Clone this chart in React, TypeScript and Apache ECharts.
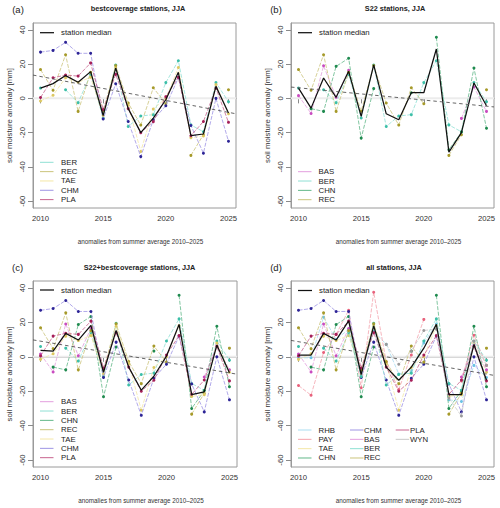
import React, { useEffect, useRef } from "react";
import * as echarts from "echarts";

// Summer (JJA) soil moisture anomalies per station, mm, 2010–2025
const years = [2010, 2011, 2012, 2013, 2014, 2015, 2016, 2017, 2018, 2019, 2020, 2021, 2022, 2023, 2024, 2025];

const BAS = [1.6, -8.8, 19, 0.6, 16.4, null, null, null, null, null, null, null, null, -11.7, 6.6, -7.6];
const BER = [6, null, 5, -2.5, 14, -11.5, 19.5, -16.4, -10.3, -9.5, 9.2, 22, -15.5, -19.5, 9.2, -2];
const CHN = [null, -6, -7.6, 18.7, 23.4, -23.2, 5.7, null, null, 3.3, null, 35.7, -30, -19.7, 17.7, -17.4];
const REC = [16.8, 4.7, 25.5, -7.6, 15.2, -7.5, 19.1, -2.7, -15.6, 6.2, -3.1, null, -33.3, -21.2, null, 5];
const TAE = [-1.5, 1.8, 12, 9.4, 12.3, -10, 17.7, -4, -31, -6.2, 0, 18, -23, -22, 8, -9];
const CHM = [27, 28, 32.7, 26.3, 26.3, -12, 8.5, -13.5, -34, -12.5, -4.3, 12, -15.8, -32, 0, -25];
const PLA = [0.5, 12, 13.6, 13, 20.7, -6.5, 14, -6, -20, -13.6, 1, 12.3, -21.8, -13.5, 6, -14];
const RHB = [-0.6, -0.6, 23, 10, 16, -11, 15, 7.2, -10, -8, 8, 19, -25, -26, -5, -12];
const PAY = [-16.7, -22.3, 2.5, 13, 27, -18, 37.5, -3, -19, 1, 21.7, null, null, -14, 12.5, -5];
const WYN = [null, null, null, null, null, null, null, 7.2, -4.3, 3.3, 15.3, 16, -24, -34.4, 9, -5];

// Station medians of each station group
const medianA = [6, 8.6, 13.3, 9.4, 15.6, -10, 17.7, -6, -20, -11.5, -0.8, 15.2, -21.8, -20.8, 7, -8.6];
const medianB = [6, -5.7, 11.9, 0.6, 15.8, -10.5, 19.5, -9, -12.5, 3.3, 3.3, 28.8, -31.4, -20, 9, -4.3];
const medianC = [3.7, 3.3, 13.6, 9.7, 18.2, -9, 15.3, -6, -19.4, -11.3, 0.4, 18.8, -22, -20.4, 6.8, -9.3];
const medianD = [1, 1, 13.6, 9.7, 20.8, -10.3, 17.9, -6, -13.6, -6, 5, 18.8, -22, -22, 7.2, -13.6];

// Linear trend of the median, value at left and right edge of the x range
const trendStart = [13.6, 6.6, 9.8, 9.5];
const trendEnd = [-9, -5, -10.1, -10.8];

const xTicks = [2010, 2015, 2020, 2025];
const yTicks = [-60, -40, -20, 0, 20, 40];
const X_MIN = 2009.4;
const X_MAX = 2025.6;

const stationValues: Record<string, (number | null)[]> = { BAS, BER, CHN, REC, TAE, CHM, PLA, RHB, PAY, WYN };

const stationColors: Record<string, { line: string; point: string }> = {
  BAS: { line: "#e39ede", point: "#c94cc0" },
  BER: { line: "#8fe0d4", point: "#3cbfa8" },
  CHN: { line: "#62b889", point: "#1f8a4f" },
  REC: { line: "#cbc47c", point: "#a69a2a" },
  TAE: { line: "#f4e7a6", point: "#dcc862" },
  CHM: { line: "#9e94e4", point: "#2d2496" },
  PLA: { line: "#c8648e", point: "#a51f58" },
  RHB: { line: "#a9ddf1", point: "#6cc2e6" },
  PAY: { line: "#f4a3ad", point: "#e8627c" },
  WYN: { line: "#c9c9c9", point: "#9a9a9a" },
};

const FONT = "Liberation Sans, Arial, Helvetica, sans-serif";

type Panel = {
  letter: string;
  title: string;
  stations: string[];
  median: number[];
  grid: { left: number; top: number; width: number; height: number };
  titleX: number;
  titleY: number;
  letterX: number;
  medLegend: { x: number; y: number };
  legendCols: { lineX: number; textX: number; names: string[] }[];
  legendY0: number;
};

const panels: Panel[] = [
  {
    letter: "(a)",
    title: "bestcoverage stations, JJA",
    stations: ["BER", "REC", "TAE", "CHM", "PLA"],
    median: medianA,
    grid: { left: 33, top: 23, width: 203, height: 185 },
    titleX: 138,
    titleY: 8.5,
    letterX: 18,
    medLegend: { x: 40, y: 32.7 },
    legendCols: [{ lineX: 40, textX: 61, names: ["BER", "REC", "TAE", "CHM", "PLA"] }],
    legendY0: 162.3,
  },
  {
    letter: "(b)",
    title: "S22 stations, JJA",
    stations: ["BAS", "BER", "CHN", "REC"],
    median: medianB,
    grid: { left: 291, top: 23, width: 203, height: 185 },
    titleX: 395,
    titleY: 8.5,
    letterX: 276,
    medLegend: { x: 298, y: 32.7 },
    legendCols: [{ lineX: 298, textX: 318.5, names: ["BAS", "BER", "CHN", "REC"] }],
    legendY0: 171.7,
  },
  {
    letter: "(c)",
    title: "S22+bestcoverage stations, JJA",
    stations: ["BAS", "BER", "CHN", "REC", "TAE", "CHM", "PLA"],
    median: medianC,
    grid: { left: 33, top: 281, width: 204, height: 186 },
    titleX: 139.5,
    titleY: 267,
    letterX: 17.5,
    medLegend: { x: 40, y: 290 },
    legendCols: [{ lineX: 40, textX: 61, names: ["BAS", "BER", "CHN", "REC", "TAE", "CHM", "PLA"] }],
    legendY0: 401.7,
  },
  {
    letter: "(d)",
    title: "all stations, JJA",
    stations: ["RHB", "PAY", "TAE", "CHN", "CHM", "BAS", "BER", "REC", "PLA", "WYN"],
    median: medianD,
    grid: { left: 291, top: 281, width: 203, height: 186 },
    titleX: 394,
    titleY: 267,
    letterX: 276,
    medLegend: { x: 298, y: 290.5 },
    legendCols: [
      { lineX: 298, textX: 318.5, names: ["RHB", "PAY", "TAE", "CHN"] },
      { lineX: 350, textX: 364, names: ["CHM", "BAS", "BER", "REC"] },
      { lineX: 395.7, textX: 410, names: ["PLA", "WYN"] },
    ],
    legendY0: 430,
  },
];

const ROW = 9.33;

function buildOption() {
  const grids: any[] = [];
  const xAxes: any[] = [];
  const yAxes: any[] = [];
  const series: any[] = [];
  const graphics: any[] = [];

  panels.forEach((p, i) => {
    grids.push({ ...p.grid, show: true, borderColor: "#9a9a9a", borderWidth: 1, backgroundColor: "transparent" });
    xAxes.push({
      type: "value",
      gridIndex: i,
      min: X_MIN,
      max: X_MAX,
      splitLine: { show: false },
      axisLine: { show: true, lineStyle: { color: "#9a9a9a", width: 1 } },
      axisTick: { show: true, length: 5, lineStyle: { color: "#8a8a8a" }, customValues: xTicks },
      axisLabel: {
        customValues: xTicks,
        margin: 6.5,
        fontSize: 7.7,
        color: "#333",
        fontFamily: FONT,
        formatter: (v: number) => String(v),
      },
    });
    yAxes.push({
      type: "value",
      gridIndex: i,
      min: -64,
      max: 44,
      splitLine: { show: false },
      axisLine: { show: true, lineStyle: { color: "#9a9a9a", width: 1 } },
      axisTick: { show: true, length: 5, lineStyle: { color: "#8a8a8a" }, customValues: yTicks },
      axisLabel: {
        customValues: yTicks,
        rotate: 90,
        margin: 7,
        fontSize: 7.7,
        color: "#333",
        fontFamily: FONT,
        formatter: (v: number) => String(v),
      },
    });

    // zero reference line
    series.push({
      type: "line",
      xAxisIndex: i,
      yAxisIndex: i,
      data: [[X_MIN, 0], [X_MAX, 0]],
      showSymbol: false,
      silent: true,
      lineStyle: { color: "#ececec", width: 2 },
      z: 1,
    });

    p.stations.forEach((name, k) => {
      const vals = stationValues[name];
      const c = stationColors[name];
      series.push({
        type: "line",
        name,
        xAxisIndex: i,
        yAxisIndex: i,
        data: years.map((y, j) => [y, vals[j] == null ? "-" : vals[j]]),
        connectNulls: false,
        symbol: "circle",
        symbolSize: 3,
        showSymbol: true,
        showAllSymbol: true,
        silent: true,
        itemStyle: { color: c.point },
        lineStyle: { color: c.line, width: 0.8, type: [4, 1.5] },
        z: 3 + k * 0.01,
      });
    });

    series.push({
      type: "line",
      xAxisIndex: i,
      yAxisIndex: i,
      data: years.map((y, j) => [y, p.median[j]]),
      showSymbol: false,
      silent: true,
      lineStyle: { color: "#111", width: 1.25 },
      z: 5,
    });

    series.push({
      type: "line",
      xAxisIndex: i,
      yAxisIndex: i,
      data: [[X_MIN, trendStart[i]], [X_MAX, trendEnd[i]]],
      showSymbol: false,
      silent: true,
      lineStyle: { color: "#555", width: 0.9, type: [3.5, 3] },
      z: 6,
    });

    // panel texts
    const g = p.grid;
    graphics.push({
      type: "text",
      x: p.letterX,
      y: p.titleY + 0.5,
      style: { text: p.letter, fontSize: 9.5, fontFamily: FONT, fill: "#222", align: "center", verticalAlign: "middle" },
    });
    graphics.push({
      type: "text",
      x: p.titleX,
      y: p.titleY,
      style: { text: p.title, fontSize: 7.3, fontWeight: "bold", fontFamily: FONT, fill: "#222", align: "center", verticalAlign: "middle" },
    });
    graphics.push({
      type: "text",
      x: g.left + g.width / 2 + 6,
      y: g.top + g.height + 33.5,
      style: { text: "anomalies from summer average 2010\u20132025", fontSize: 6.3, fontFamily: FONT, fill: "#333", align: "center", verticalAlign: "middle" },
    });
    graphics.push({
      type: "text",
      x: g.left - 24,
      y: g.top + g.height / 2,
      rotation: Math.PI / 2,
      style: { text: "soil moisture anomaly [mm]", fontSize: 7.8, fontFamily: FONT, fill: "#333", align: "center", verticalAlign: "middle" },
    });

    // legend: station median
    graphics.push({
      type: "line",
      shape: { x1: p.medLegend.x, y1: p.medLegend.y, x2: p.medLegend.x + 14, y2: p.medLegend.y },
      style: { stroke: "#111", lineWidth: 1.25 },
    });
    graphics.push({
      type: "text",
      x: p.medLegend.x + 21,
      y: p.medLegend.y,
      style: { text: "station median", fontSize: 7.8, fontFamily: FONT, fill: "#222", align: "left", verticalAlign: "middle" },
    });

    // legend: stations
    p.legendCols.forEach((col) => {
      col.names.forEach((name, r) => {
        const y = p.legendY0 + r * ROW;
        graphics.push({
          type: "line",
          shape: { x1: col.lineX, y1: y, x2: col.lineX + 13.5, y2: y },
          style: { stroke: stationColors[name].line, lineWidth: 1 },
        });
        graphics.push({
          type: "text",
          x: col.textX,
          y,
          style: { text: name, fontSize: 7.8, fontFamily: FONT, fill: "#222", align: "left", verticalAlign: "middle" },
        });
      });
    });
  });

  return {
    animation: false,
    backgroundColor: "#ffffff",
    grid: grids,
    xAxis: xAxes,
    yAxis: yAxes,
    series,
    graphic: graphics,
  };
}

export default function App() {
  const ref = useRef<HTMLDivElement>(null);
  useEffect(() => {
    if (!ref.current) return;
    const chart = echarts.init(ref.current, undefined, { renderer: "svg" });
    chart.setOption(buildOption() as any);
    return () => chart.dispose();
  }, []);
  return (
    <div
      ref={ref}
      style={{ position: "fixed", left: 0, top: 0, width: 500, height: 508, background: "#fff" }}
    />
  );
}
